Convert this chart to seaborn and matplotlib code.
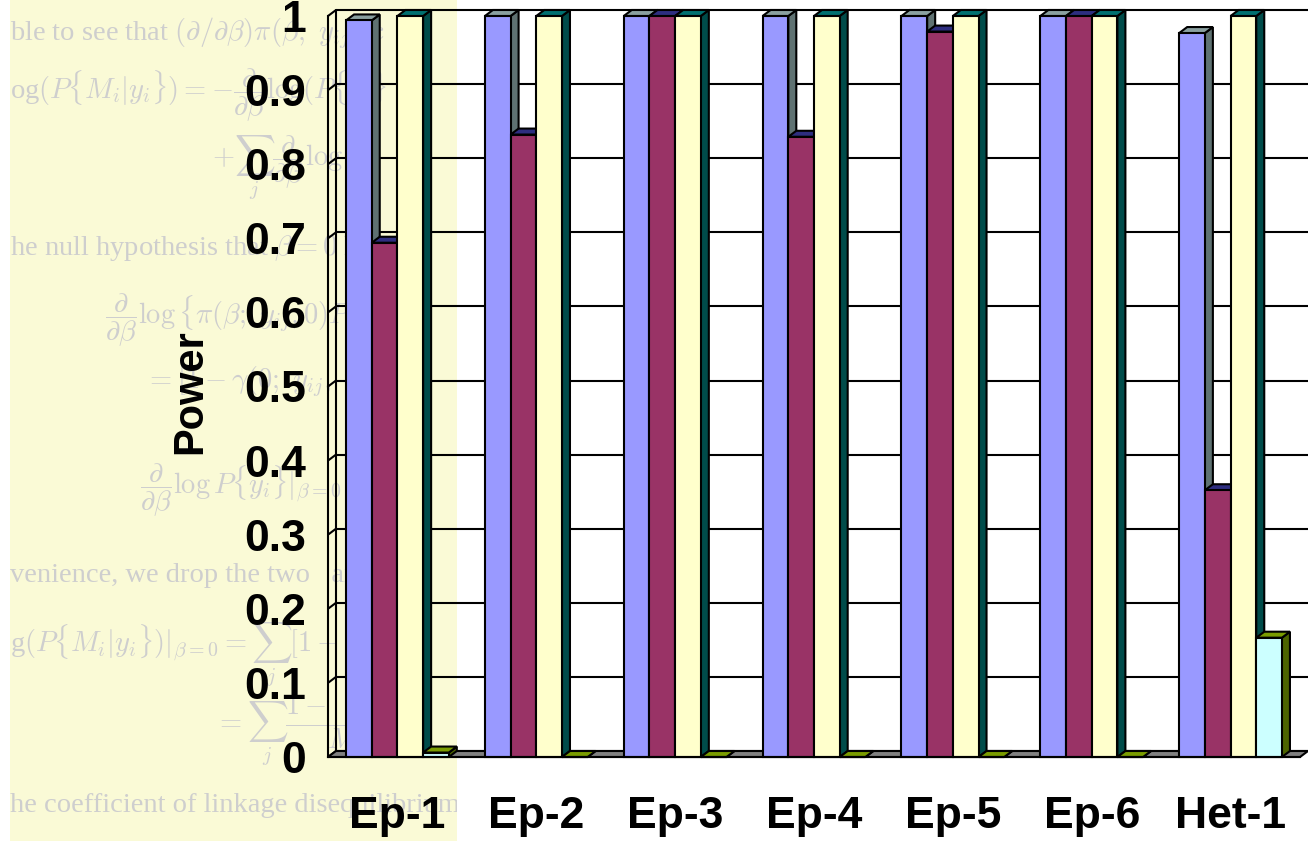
import matplotlib
matplotlib.use("Agg")
import matplotlib.pyplot as plt
import numpy as np
import pandas as pd
import seaborn as sns
from matplotlib.patches import Polygon, Rectangle
from matplotlib.colors import to_hex
from matplotlib.transforms import Bbox, TransformedBbox

# ---- data -------------------------------------------------------------
categories = ["Ep-1", "Ep-2", "Ep-3", "Ep-4", "Ep-5", "Ep-6", "Het-1"]
series_names = ["Series 1", "Series 2", "Series 3", "Series 4"]
power_s1 = [0.994, 1.0, 1.0, 1.0, 1.0, 1.0, 0.977]
power_s2 = [0.694, 0.840, 1.0, 0.837, 0.979, 1.0, 0.360]
power_s3 = [1.0, 1.0, 1.0, 1.0, 1.0, 1.0, 1.0]
power_s4 = [0.006, 0.0, 0.0, 0.0, 0.0, 0.0, 0.161]
y_ticks = [0.0, 0.1, 0.2, 0.3, 0.4, 0.5, 0.6, 0.7, 0.8, 0.9, 1.0]
y_tick_labels = ["0", "0.1", "0.2", "0.3", "0.4", "0.5", "0.6", "0.7", "0.8", "0.9", "1"]
y_title = "Power"

# faint page text sitting behind the chart (x px, y px, string)
page_lines = [
    (10, 33, r"ble to see that $(\partial/\partial\beta)\pi(\beta;\ y_{ij},\ c$"),
    (10, 95, r"og$(P\{M_i|y_i\}) = -\dfrac{\partial}{\partial\beta}\log(P\{y_i\}$"),
    (212, 168, r"$+\sum_j\dfrac{\partial}{\partial\beta}\log\pi\quad\ y_i$"),
    (10, 248, r"he null hypothesis that $\beta = 0$ h"),
    (105, 320, r"$\dfrac{\partial}{\partial\beta}\log\{\pi(\beta;\ y_{ij},0)P\{y_{ij}\}$"),
    (145, 382, r"$= [1 - \gamma(0;\ y_{ij},\ 0;$"),
    (140, 490, r"$\dfrac{\partial}{\partial\beta}\log P\{y_i\}|_{\beta=0}\quad [1 -$"),
    (10, 575, r"venience, we drop the two   an"),
    (10, 655, r"g$(P\{M_i|y_i\})|_{\beta=0} = \sum_j[1 -\quad -\ \gamma$"),
    (215, 730, r"$= \sum_j\dfrac{1 -\qquad\ \gamma}{M_i}$"),
    (10, 805, r"he coefficient of linkage disequilibrium"),
]

# ---- colours ----------------------------------------------------------
front_colors = ["#9999FF", "#993366", "#FFFFCC", "#CCFFFF"]
top_colors = ["#8AA0A0", "#2E2E80", "#007070", "#7A9C00"]
side_colors = ["#5F7272", "#232360", "#004C4A", "#4C6400"]
page_yellow = "#FAFAD6"
page_ink = "#CECECE"

sns.set_style("white")
plt.rcParams["font.family"] = ["Liberation Sans", "DejaVu Sans"]
plt.rcParams["mathtext.fontset"] = "cm"
plt.rcParams["text.color"] = "black"
plt.rcParams["xtick.color"] = "black"
plt.rcParams["ytick.color"] = "black"

W, H = 1308, 841
fig = plt.figure(figsize=(W / 100, H / 100), dpi=100)

# page background panel with faint typeset text
panel = Rectangle((10 / W, 0), (457 - 10) / W, 1.0, transform=fig.transFigure,
                  facecolor=page_yellow, edgecolor="none", zorder=-3)
fig.patches.append(panel)
clip = TransformedBbox(Bbox([[10 / W, 0], [457 / W, 1]]), fig.transFigure)
for px, py, s in page_lines:
    t = fig.text(px / W, 1 - py / H, s, fontsize=20.5, color=page_ink,
                 family="Liberation Serif", ha="left", va="center", zorder=-2)
    t.set_clip_box(clip)
    t.set_clip_on(True)

# ---- axes -------------------------------------------------------------
X0, X1, Y0, Y1 = 328, 1300, 757, 16
ax = fig.add_axes([X0 / W, 1 - Y0 / H, (X1 - X0) / W, (Y0 - Y1) / H])
ax.patch.set_visible(False)

df = pd.DataFrame({
    "category": np.repeat(categories, 4),
    "series": series_names * len(categories),
    "power": np.ravel(np.column_stack([power_s1, power_s2, power_s3, power_s4])),
})

lw = 1.5
sns.barplot(data=df, x="category", y="power", hue="series", hue_order=series_names,
            order=categories, palette=front_colors, saturation=1, width=0.74,
            edgecolor="black", linewidth=lw, errorbar=None, legend=False, ax=ax)

ncat = len(categories)
ax.set_xlim(-0.5, ncat - 0.5)
ax.set_ylim(0, 1)

# depth of the pseudo-3D effect, in data units
dx = 8 * ncat / (X1 - X0)
dy = 6 / (Y0 - Y1)
xl, xr = -0.5, ncat - 0.5

# back wall gridlines, left wall diagonals and floor
for t in y_ticks:
    ax.plot([xl + dx, xr + dx], [t + dy, t + dy], color="black", lw=lw,
            zorder=1, clip_on=False, solid_capstyle="butt")
    ax.plot([xl, xl + dx], [t, t + dy], color="black", lw=lw, zorder=1, clip_on=False)
ax.plot([xl + dx, xl + dx], [dy, 1 + dy], color="black", lw=lw, zorder=1, clip_on=False)
ax.add_patch(Polygon([(xl, 0), (xl + dx, dy), (xr + dx, dy), (xr, 0)], closed=True,
                     facecolor="#808080", edgecolor="black", lw=lw, zorder=1.5,
                     clip_on=False))

# bar tops and sides, layered left to right
front_hex = [to_hex(c) for c in front_colors]
bars = [p for p in ax.patches if isinstance(p, Rectangle) and p.get_width() < 0.5]
bars = [p for p in bars if to_hex(p.get_facecolor()) in front_hex]
bars.sort(key=lambda p: p.get_x())
for i, p in enumerate(bars):
    k = front_hex.index(to_hex(p.get_facecolor()))
    x0, w, h = p.get_x(), p.get_width(), p.get_height()
    base = 2 + 0.02 * i
    side = Polygon([(x0 + w, 0), (x0 + w, h), (x0 + w + dx, h + dy), (x0 + w + dx, dy)],
                   closed=True, facecolor=side_colors[k], edgecolor="black", lw=lw,
                   zorder=base, clip_on=False)
    top = Polygon([(x0, h), (x0 + dx, h + dy), (x0 + w + dx, h + dy), (x0 + w, h)],
                  closed=True, facecolor=top_colors[k], edgecolor="black", lw=lw,
                  zorder=base, clip_on=False)
    ax.add_patch(side)
    ax.add_patch(top)
    p.set_zorder(base + 0.01)
    p.set_clip_on(False)

# ---- axis styling -----------------------------------------------------
for s in ["top", "right"]:
    ax.spines[s].set_visible(False)
for s in ["left", "bottom"]:
    ax.spines[s].set_color("black")
    ax.spines[s].set_linewidth(lw)
    ax.spines[s].set_zorder(3)

ax.set_yticks(y_ticks)
ax.set_yticklabels(y_tick_labels, fontsize=32, fontweight="bold", color="black")
ax.tick_params(axis="y", direction="out", length=9.5, width=lw, color="black", pad=6)

ax.set_xticks(range(ncat))
ax.set_xticklabels(categories, fontsize=32, fontweight="bold", color="black")
ax.set_xticks(np.arange(-0.5, ncat, 1.0), minor=True)
ax.tick_params(axis="x", which="major", length=0, pad=28)
ax.tick_params(axis="x", which="minor", direction="out", length=9.5, width=lw,
               color="black")

ax.set_xlabel("")
ax.set_ylabel("")
fig.text(190 / W, 1 - 392 / H, y_title, rotation=90, fontsize=30, fontweight="bold",
         ha="center", va="center", color="black")

fig.savefig("out.png", dpi=100)
